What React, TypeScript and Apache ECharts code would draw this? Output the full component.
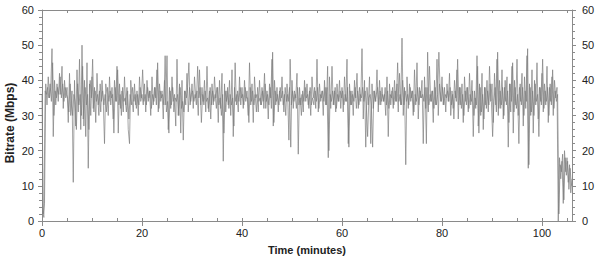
import React, { useEffect, useRef } from "react";
import * as echarts from "echarts";

// Time axis sampling (minutes). Pass A starts at 0, pass B is offset by half a step.
const STEP_MIN = 0.25;
const PASS_B_OFFSET = 0.125;

// Bitrate (Mbps) — pass A, 4 samples per minute
const passA0to20 = [
  36, 2, 5, 39, 33, 41, 35, 38, 49, 24, 40, 33, 39, 34, 42, 36, 44, 32, 40, 35,
  38, 28, 42, 30, 37, 11, 40, 27, 43, 31, 46, 26, 50, 29, 40, 24, 45, 15, 39, 30,
  41, 32, 38, 28, 42, 33, 37, 31, 40, 34, 22, 39, 36, 30, 41, 33, 38, 29, 40, 34,
  44, 25, 39, 32, 37, 31, 41, 33, 38, 26, 22, 40, 35, 31, 39, 33, 37, 30, 41, 34,
];
const passA20to40 = [
  36, 33, 39, 31, 40, 34, 37, 30, 41, 33, 38, 35, 43, 31, 39, 34, 37, 29, 40, 33,
  47, 26, 38, 32, 41, 34, 36, 27, 46, 30, 39, 25, 40, 23, 37, 33, 42, 31, 38, 34,
  39, 32, 41, 35, 37, 30, 43, 33, 38, 34, 40, 31, 44, 32, 37, 29, 39, 33, 41, 35,
  38, 28, 40, 32, 42, 17, 39, 31, 37, 33, 40, 30, 43, 24, 38, 34, 36, 31, 41, 33,
];
const passA40to60 = [
  38, 32, 40, 34, 37, 30, 45, 33, 39, 28, 41, 35, 36, 31, 40, 33, 38, 34, 42, 32,
  37, 29, 39, 35, 46, 27, 40, 33, 38, 31, 37, 34, 41, 33, 36, 30, 39, 34, 38, 21,
  40, 32, 37, 35, 42, 19, 38, 33, 36, 31, 40, 34, 39, 33, 37, 30, 41, 35, 38, 32,
  46, 31, 39, 34, 37, 30, 40, 33, 38, 18, 41, 32, 44, 33, 37, 31, 39, 34, 40, 32,
];
const passA60to80 = [
  38, 31, 41, 34, 46, 22, 39, 33, 37, 30, 40, 35, 42, 32, 38, 34, 49, 29, 40, 21,
  38, 33, 41, 22, 39, 32, 37, 34, 43, 31, 40, 33, 38, 34, 36, 30, 41, 24, 39, 33,
  37, 32, 40, 34, 39, 31, 42, 33, 52, 30, 38, 16, 41, 32, 39, 34, 37, 30, 43, 33,
  45, 29, 38, 35, 40, 22, 41, 32, 38, 31, 44, 34, 37, 28, 40, 33, 46, 30, 39, 34,
];
const passA80to100 = [
  41, 33, 38, 31, 39, 34, 42, 30, 37, 32, 40, 35, 43, 29, 38, 33, 39, 28, 41, 34,
  38, 31, 42, 33, 40, 24, 37, 32, 47, 27, 39, 30, 42, 26, 38, 33, 40, 31, 44, 34,
  39, 28, 42, 33, 46, 30, 40, 32, 43, 29, 38, 34, 41, 21, 39, 31, 44, 25, 40, 33,
  46, 30, 38, 34, 42, 27, 41, 32, 47, 15, 39, 30, 43, 25, 40, 33, 45, 29, 38, 34,
];
const passA100to106 = [
  42, 31, 39, 33, 44, 28, 38, 34, 41, 30, 40, 35, 38, 0, 18, 12, 17, 5, 20, 14,
  18, 11, 16, 8, 12,
];

// Pass B, 4 samples per minute, offset by 0.125 min
const passB0to20 = [
  3, 1, 37, 36, 38, 35, 39, 34, 45, 30, 37, 35, 38, 36, 41, 35, 39, 34, 38, 36,
  35, 31, 39, 33, 30, 36, 34, 26, 39, 33, 36, 30, 44, 27, 38, 33, 36, 26, 40, 35,
  46, 31, 37, 34, 36, 30, 39, 34, 37, 33, 36, 31, 38, 34, 37, 35, 36, 25, 38, 34,
  43, 33, 36, 30, 38, 34, 35, 31, 37, 29, 36, 33, 38, 34, 36, 32, 36, 33, 38, 35,
];
const passB20to40 = [
  43, 34, 36, 33, 38, 35, 37, 32, 36, 34, 38, 33, 45, 32, 37, 35, 36, 33, 47, 31,
  34, 25, 37, 33, 38, 31, 35, 34, 36, 30, 38, 32, 34, 31, 37, 35, 38, 45, 33, 36,
  37, 34, 36, 33, 44, 35, 38, 28, 36, 33, 37, 34, 35, 31, 38, 33, 37, 34, 36, 32,
  38, 33, 35, 30, 36, 25, 37, 34, 38, 32, 36, 33, 35, 27, 45, 33, 37, 34, 38, 35,
];
const passB40to60 = [
  36, 33, 38, 35, 35, 28, 38, 34, 37, 33, 36, 31, 38, 34, 35, 33, 37, 32, 39, 34,
  36, 33, 38, 32, 48, 28, 37, 34, 36, 33, 38, 35, 37, 31, 38, 34, 36, 23, 46, 33,
  37, 34, 36, 32, 38, 33, 35, 30, 37, 34, 38, 35, 36, 32, 38, 33, 35, 33, 37, 34,
  38, 32, 36, 35, 37, 34, 38, 33, 44, 20, 36, 34, 37, 33, 38, 32, 36, 34, 37, 35,
];
const passB60to80 = [
  37, 33, 36, 34, 38, 21, 37, 33, 36, 34, 38, 32, 37, 33, 36, 35, 38, 34, 37, 33,
  24, 35, 36, 33, 21, 37, 34, 36, 38, 33, 37, 34, 36, 34, 38, 33, 37, 32, 36, 35,
  38, 33, 37, 34, 45, 34, 36, 33, 40, 33, 37, 34, 36, 33, 38, 35, 37, 31, 36, 34,
  38, 33, 37, 35, 36, 34, 38, 22, 48, 33, 36, 34, 37, 32, 38, 33, 36, 48, 37, 34,
];
const passB80to100 = [
  38, 33, 36, 35, 37, 34, 38, 33, 36, 29, 37, 34, 46, 33, 38, 32, 36, 30, 37, 33,
  38, 32, 36, 34, 37, 30, 35, 33, 44, 25, 38, 31, 36, 29, 38, 32, 37, 33, 39, 34,
  24, 34, 38, 31, 48, 32, 37, 33, 38, 30, 40, 33, 37, 28, 39, 34, 45, 31, 38, 32,
  36, 22, 39, 33, 38, 30, 37, 34, 49, 16, 38, 31, 37, 30, 39, 34, 36, 24, 38, 33,
];
const passB100to106 = [
  46, 32, 37, 34, 38, 30, 39, 33, 43, 32, 37, 34, 36, 2, 16, 14, 19, 6, 18, 13,
  17, 9, 15, 10,
];

const xTickLabels = [0, 20, 40, 60, 80, 100];
const yTickLabels = [0, 10, 20, 30, 40, 50, 60];
const X_MAX = 106;

const passA = [
  ...passA0to20,
  ...passA20to40,
  ...passA40to60,
  ...passA60to80,
  ...passA80to100,
  ...passA100to106,
];
const passB = [
  ...passB0to20,
  ...passB20to40,
  ...passB40to60,
  ...passB60to80,
  ...passB80to100,
  ...passB100to106,
];

const FONT = "Arial, 'Liberation Sans', sans-serif";
const AXIS_COLOR = "#8a8a8a";
const LABEL_COLOR = "#222";
const LINE_COLOR = "#7c7c7c";
const LINE_OPACITY = 0.68;

export default function App() {
  const ref = useRef<HTMLDivElement>(null);

  useEffect(() => {
    if (!ref.current) return;
    const chart = echarts.init(ref.current, undefined, { renderer: "svg" });
    const dataA = passA.map((v, i) => [i * STEP_MIN, v]);
    const dataB = passB.map((v, i) => [PASS_B_OFFSET + i * STEP_MIN, v]);

    const xBase = {
      type: "value" as const,
      min: 0,
      max: X_MAX,
      splitLine: { show: false },
      axisLine: { show: true, onZero: false, lineStyle: { color: AXIS_COLOR, width: 1 } },
    };
    const yBase = {
      type: "value" as const,
      min: 0,
      max: 60,
      interval: 10,
      splitLine: { show: false },
      axisLine: { show: true, onZero: false, lineStyle: { color: AXIS_COLOR, width: 1 } },
    };
    const lineSeries = (data: number[][]) => ({
      type: "line",
      xAxisIndex: 0,
      yAxisIndex: 0,
      data,
      showSymbol: false,
      symbol: "none",
      lineStyle: { color: LINE_COLOR, width: 1, opacity: LINE_OPACITY },
      z: 1,
    });

    chart.setOption({
      animation: false,
      backgroundColor: "#fff",
      grid: {
        left: 42,
        right: 28,
        top: 10,
        bottom: 38,
        containLabel: false,
        outerBoundsMode: "none",
      },
      graphic: [
        {
          type: "text",
          x: 10,
          y: 123,
          rotation: Math.PI / 2,
          style: {
            text: "Bitrate (Mbps)",
            fill: LABEL_COLOR,
            font: `bold 12px ${FONT}`,
            align: "center",
            verticalAlign: "middle",
          },
        },
      ],
      xAxis: [
        {
          ...xBase,
          position: "bottom",
          interval: 20,
          axisTick: { show: true, length: 5, inside: false, lineStyle: { color: AXIS_COLOR } },
          axisLabel: {
            show: true,
            color: LABEL_COLOR,
            fontSize: 11,
            fontFamily: FONT,
            margin: 6,
            showMaxLabel: false,
            formatter: (v: number) => (xTickLabels.includes(v) ? String(v) : ""),
          },
          name: "Time (minutes)",
          nameLocation: "middle",
          nameGap: 23,
          nameTextStyle: { color: LABEL_COLOR, fontSize: 11, fontWeight: "bold", fontFamily: FONT },
        },
        {
          ...xBase,
          position: "bottom",
          interval: 5,
          axisTick: { show: true, length: 3, inside: true, lineStyle: { color: AXIS_COLOR } },
          axisLabel: { show: false },
        },
        {
          ...xBase,
          position: "top",
          interval: 5,
          axisTick: { show: true, length: 3, inside: true, lineStyle: { color: AXIS_COLOR } },
          axisLabel: { show: false },
        },
      ],
      yAxis: [
        {
          ...yBase,
          position: "left",
          axisTick: { show: true, length: 4, inside: false, lineStyle: { color: AXIS_COLOR } },
          minorTick: { show: true, splitNumber: 5, length: 3, lineStyle: { color: AXIS_COLOR } },
          axisLabel: {
            color: LABEL_COLOR,
            fontSize: 11,
            fontFamily: FONT,
            margin: 8,
            formatter: (v: number) => (yTickLabels.includes(v) ? String(v) : ""),
          },
        },
        {
          ...yBase,
          position: "right",
          axisTick: { show: true, length: 4, inside: false, lineStyle: { color: AXIS_COLOR } },
          minorTick: { show: true, splitNumber: 5, length: 3, lineStyle: { color: AXIS_COLOR } },
          axisLabel: {
            color: LABEL_COLOR,
            fontSize: 11,
            fontFamily: FONT,
            margin: 10,
            formatter: (v: number) => (yTickLabels.includes(v) ? String(v) : ""),
          },
        },
      ],
      series: [lineSeries(dataA), lineSeries(dataB)],
    });

    return () => chart.dispose();
  }, []);

  return (
    <div
      ref={ref}
      style={{ position: "fixed", left: 0, top: 0, width: 600, height: 259 }}
    />
  );
}
